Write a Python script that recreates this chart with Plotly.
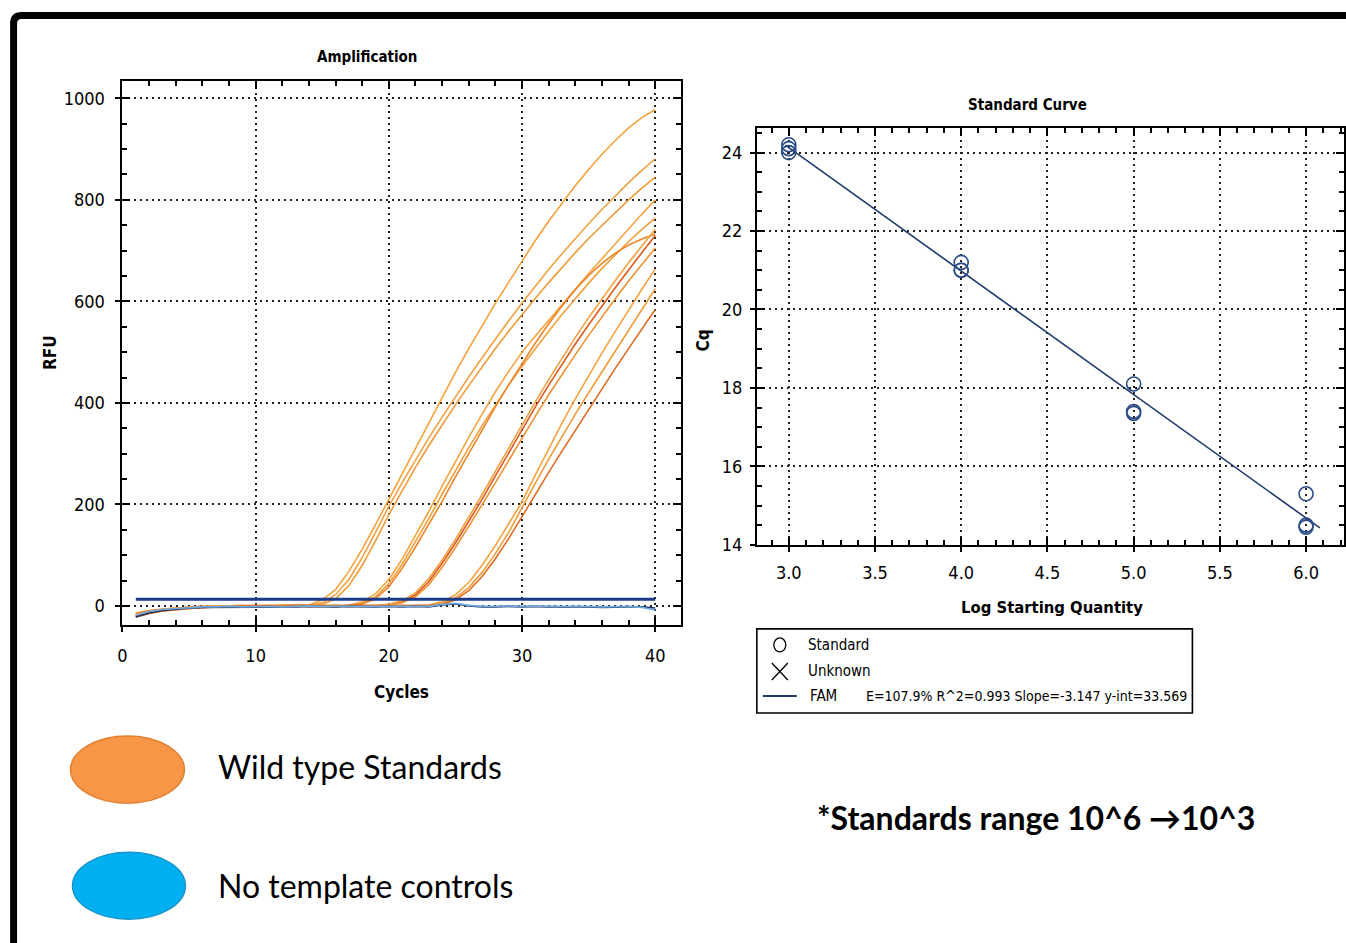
import plotly.graph_objects as go

W, H = 1346, 943

# ---------------- DATA ----------------
cycles = list(range(1, 41))

std_curves = {
    "A1": [-18, -12, -8, -5, -3, -2, -1, -2, 0, -1, 0, 1, 0, 2, 12, 32, 68, 112, 160, 210,
           262, 313, 363, 412, 460, 507, 552, 596, 638, 680, 720, 758, 794, 828, 860, 890, 917, 942, 962, 978],
    "A2": [-15, -10, -7, -4, -3, -1, -2, 0, -1, 1, 0, -1, 1, 1, 6, 22, 52, 95, 145, 196,
           243, 288, 331, 372, 412, 451, 489, 526, 562, 597, 631, 663, 694, 724, 753, 781, 808, 834, 858, 881],
    "A3": [-20, -13, -9, -6, -4, -3, -2, -1, -2, 0, -1, 0, 1, 0, 3, 14, 40, 80, 128, 180,
           228, 273, 316, 357, 396, 434, 471, 507, 541, 574, 606, 637, 667, 696, 724, 750, 776, 800, 823, 845],
    "B1": [-16, -11, -7, -5, -3, -2, -1, 0, -1, 0, 1, -1, 0, 1, 0, -2, 1, 8, 24, 52,
           92, 138, 186, 236, 285, 332, 378, 422, 462, 500, 532, 563, 594, 625, 655, 684, 714, 743, 772, 800],
    "B2": [-19, -13, -8, -6, -4, -2, -2, -1, 0, -1, 0, 0, 1, -1, 0, 1, -1, 5, 18, 44,
           82, 126, 172, 220, 267, 312, 355, 396, 435, 472, 507, 541, 574, 606, 636, 665, 692, 718, 742, 764],
    "B3": [-14, -9, -6, -4, -2, -1, -1, 0, 1, 0, -1, 1, 0, 0, -1, 0, 1, 4, 14, 38,
           74, 116, 160, 206, 254, 301, 347, 392, 436, 478, 518, 556, 591, 623, 651, 675, 695, 711, 723, 733],
    "C1": [-22, -15, -10, -7, -5, -3, -2, -2, -1, -1, 0, -1, 0, 1, 0, -1, 0, 1, 0, 2,
           8, 22, 48, 84, 124, 166, 210, 256, 302, 348, 392, 435, 476, 516, 554, 591, 627, 662, 696, 730],
    "C2": [-17, -12, -8, -5, -3, -2, -1, 0, -1, 0, 1, 0, -1, 0, 1, 0, -1, 0, 1, 3,
           10, 26, 54, 90, 131, 174, 219, 265, 311, 357, 402, 446, 488, 529, 568, 605, 641, 676, 709, 742],
    "C3": [-20, -14, -9, -6, -4, -3, -2, -1, 0, -1, 0, 0, 1, -1, 0, 1, 0, -1, 0, 1,
           6, 18, 42, 76, 115, 156, 199, 243, 287, 331, 374, 416, 456, 495, 533, 570, 605, 640, 673, 705],
    "D1": [-16, -11, -7, -4, -3, -2, -1, 0, 0, -1, 1, 0, 0, -1, 1, 0, -1, 0, 1, 0,
           -1, 1, 2, 8, 22, 46, 80, 119, 161, 205, 258, 310, 360, 408, 454, 498, 541, 583, 624, 664],
    "D2": [-18, -12, -8, -5, -3, -2, -1, -1, 0, 0, -1, 1, 0, 0, -1, 1, 0, -1, 0, 1,
           0, -1, 1, 5, 16, 36, 66, 103, 145, 195, 242, 289, 334, 378, 420, 461, 502, 543, 584, 625],
    "D3": [-21, -14, -10, -7, -5, -3, -2, -1, -1, 0, 0, -1, 1, 0, 0, -1, 1, 0, 0, -1,
           1, 0, 0, 3, 12, 30, 58, 93, 133, 176, 220, 263, 305, 346, 387, 428, 468, 507, 546, 584],
}
std_colors = {
    "A1": "#F4A23A", "A2": "#F2A040", "A3": "#F09A36",
    "B1": "#F4A440", "B2": "#F1A03C", "B3": "#EA852A",
    "C1": "#DC5A1E", "C2": "#F2A03F", "C3": "#EE9232",
    "D1": "#F3A33F", "D2": "#F09C3A", "D3": "#E06A22",
}

ntc_curves = {
    "NTC1": [-22, -14, -9, -6, -4, -3, -3, -2, -3, -2, -2, -3, -2, -1, -2, -2, -1, -2, -2, -1,
             -2, -1, -2, 2, 4, 0, -2, -2, -1, -2, -1, -2, -2, -1, -2, -3, -2, -2, -2, -4],
    "NTC2": [-18, -11, -7, -5, -3, -2, -2, -1, -2, -1, -1, -2, -1, 0, -1, -1, 0, -1, -1, 0,
             -1, 0, -1, 3, 5, 1, -1, -1, 0, -1, 0, -1, -1, 0, -1, -2, -1, -1, -3, -8],
}
ntc_colors = {"NTC1": "#1B2F5E", "NTC2": "#6FA8DC"}

threshold_x = [1, 40]
threshold_y = [13, 13]

log_qty = [3.0, 3.0, 3.0, 4.0, 4.0, 4.0, 5.0, 5.0, 5.0, 6.0, 6.0, 6.0]
cq_vals = [24.2, 24.0, 24.1, 21.2, 21.0, 21.0, 18.1, 17.4, 17.35, 15.3, 14.5, 14.45]
fit_x = [2.98, 6.08]
fit_y = [24.19, 14.43]

legend_rows = ["Standard", "Unknown", "FAM"]
fit_stats = "E=107.9% R^2=0.993 Slope=-3.147 y-int=33.569"

# ---------------- FIGURE ----------------
def px(x):
    return min(1.0, max(0.0, ((x - 4.4) / 0.9958) / W))

def py(y):
    return 1 - (y / 0.988) / H

NARROW = "DejaVu Sans Condensed, Liberation Sans Narrow, Arial Narrow, Liberation Sans, sans-serif"
CAL = "Lato, Open Sans, sans-serif"

fig = go.Figure()

for k, ys in std_curves.items():
    fig.add_trace(go.Scatter(x=cycles, y=ys, mode="lines",
                             line=dict(color=std_colors[k], width=1.6),
                             xaxis="x", yaxis="y", showlegend=False, hoverinfo="skip"))
for k, ys in ntc_curves.items():
    fig.add_trace(go.Scatter(x=cycles, y=ys, mode="lines",
                             line=dict(color=ntc_colors[k], width=1.6),
                             xaxis="x", yaxis="y", showlegend=False, hoverinfo="skip"))
fig.add_trace(go.Scatter(x=threshold_x, y=threshold_y, mode="lines",
                         line=dict(color="#1C3A8A", width=3),
                         xaxis="x", yaxis="y", showlegend=False, hoverinfo="skip"))

fig.add_trace(go.Scatter(x=fit_x, y=fit_y, mode="lines",
                         line=dict(color="#203A6B", width=1.6),
                         xaxis="x2", yaxis="y2", showlegend=False, hoverinfo="skip"))
fig.add_trace(go.Scatter(x=log_qty, y=cq_vals, mode="markers",
                         marker=dict(symbol="circle-open", size=14, color="#2B4C86",
                                     line=dict(width=1.6, color="#2B4C86")),
                         xaxis="x2", yaxis="y2", showlegend=False, hoverinfo="skip"))
fig.add_trace(go.Scatter(x=[], y=[], xaxis="x3", yaxis="y3", showlegend=False))
fig.add_trace(go.Scatter(x=[], y=[], xaxis="x4", yaxis="y4", showlegend=False))

axis_common = dict(
    showline=True, linecolor="black", linewidth=2, mirror="ticks",
    ticks="inside", ticklen=8, tickwidth=2, tickcolor="black",
    showgrid=True, gridcolor="#222222", gridwidth=1.6, griddash="2px,4px",
    zeroline=False, tickfont=dict(family=NARROW, size=18, color="black"),
)
stub_common = dict(showline=False, showgrid=False, zeroline=False, showticklabels=False,
                   ticks="outside", ticklen=6, tickwidth=2, tickcolor="black")

X1 = [px(122), px(681)]
Y1 = [py(624.3), py(81)]
X2 = [px(757), px(1346)]
Y2 = [py(544), py(127.7)]
XR1, YR1 = [0, 41.93], [-38, 1034]
XR2, YR2 = [2.8147, 6.22], [14, 24.63]

fig.update_layout(
    width=W, height=H, margin=dict(l=0, r=0, t=0, b=0),
    paper_bgcolor="white", plot_bgcolor="white", showlegend=False,
    xaxis=dict(domain=X1, range=XR1, dtick=10, tick0=0, anchor="y", ticklabelstandoff=13,
               minor=dict(ticks="inside", ticklen=5, tickwidth=2, dtick=2, tickcolor="black", showgrid=False),
               **axis_common),
    yaxis=dict(domain=Y1, range=YR1, dtick=200, tick0=0, anchor="x", ticklabelstandoff=12,
               minor=dict(ticks="inside", ticklen=5, tickwidth=2, dtick=50, tickcolor="black", showgrid=False),
               **axis_common),
    xaxis2=dict(domain=X2, range=XR2, dtick=0.5, tick0=3, tickformat=".1f", anchor="y2",
                ticklabelstandoff=11,
                minor=dict(ticks="inside", ticklen=5, tickwidth=2, dtick=0.1, tickcolor="black", showgrid=False),
                **axis_common),
    yaxis2=dict(domain=Y2, range=YR2, dtick=2, tick0=14, anchor="x2", ticklabelstandoff=9,
                minor=dict(ticks="inside", ticklen=5, tickwidth=2, dtick=0.5, tickcolor="black", showgrid=False),
                **axis_common),
    xaxis3=dict(domain=X1, range=XR1, dtick=10, tick0=0, anchor="y3", overlaying="x", **stub_common),
    yaxis3=dict(domain=Y1, range=YR1, dtick=200, tick0=0, anchor="x3", overlaying="y", **stub_common),
    xaxis4=dict(domain=X2, range=XR2, dtick=0.5, tick0=3, anchor="y4", overlaying="x2", **stub_common),
    yaxis4=dict(domain=Y2, range=YR2, dtick=2, tick0=14, anchor="x4", overlaying="y2", **stub_common),
)

ann = []
def text(x, y, s, size, family=NARROW, bold=False, xanchor="center", angle=0, color="black"):
    ann.append(dict(x=px(x), y=py(y), xref="paper", yref="paper", text=(f"<b>{s}</b>" if bold else s),
                    showarrow=False, xanchor=xanchor, yanchor="middle", textangle=angle,
                    font=dict(family=family, size=size, color=color)))

text(367, 57, "Amplification", 15, bold=True)
text(401, 691, "Cycles", 17, bold=True)
text(50, 352, "RFU", 17, bold=True, angle=-90)
text(1028, 105, "Standard Curve", 15, bold=True)
text(1052, 607, "Log Starting Quantity", 16.5, bold=True)
text(704, 340, "Cq", 17, bold=True, angle=-90)

text(806, 644, legend_rows[0], 15, xanchor="left")
text(806, 670, legend_rows[1], 15, xanchor="left")
text(808, 695, legend_rows[2], 15, xanchor="left")
text(864, 695, fit_stats, 14, xanchor="left")

text(216, 765, "Wild type Standards", 32, family=CAL, xanchor="left")
text(216, 884, "No template controls", 32, family=CAL, xanchor="left")
text(815, 816, "*Standards range 10^6 \u219210^3", 32, family=CAL, bold=True, xanchor="left")

fig.update_layout(annotations=ann)

shapes = []
fx, fy, r = 13, 15.5, 8
frame_path = (f"M {px(fx)},{py(H + 20)} L {px(fx)},{py(fy + r)} "
              f"Q {px(fx)},{py(fy)} {px(fx + r)},{py(fy)} L {1.01},{py(fy)}")
shapes.append(dict(type="path", xref="paper", yref="paper", path=frame_path,
                   line=dict(color="black", width=7)))
shapes.append(dict(type="rect", xref="paper", yref="paper",
                   x0=px(757), x1=px(1193), y0=py(712), y1=py(628),
                   line=dict(color="black", width=1.6), fillcolor="rgba(0,0,0,0)"))
shapes.append(dict(type="circle", xref="paper", yref="paper",
                   x0=px(774), x1=px(786), y0=py(651), y1=py(637),
                   line=dict(color="black", width=1.3)))
shapes.append(dict(type="line", xref="paper", yref="paper",
                   x0=px(772), x1=px(788), y0=py(662), y1=py(679), line=dict(color="black", width=1.3)))
shapes.append(dict(type="line", xref="paper", yref="paper",
                   x0=px(772), x1=px(788), y0=py(679), y1=py(662), line=dict(color="black", width=1.3)))
shapes.append(dict(type="line", xref="paper", yref="paper",
                   x0=px(763), x1=px(797), y0=py(695), y1=py(695), line=dict(color="#203A6B", width=2)))
shapes.append(dict(type="circle", xref="paper", yref="paper",
                   x0=px(70), x1=px(184), y0=py(802), y1=py(735),
                   fillcolor="#F79646", line=dict(color="#E2812F", width=1.5)))
shapes.append(dict(type="circle", xref="paper", yref="paper",
                   x0=px(72), x1=px(185), y0=py(918), y1=py(851),
                   fillcolor="#00B0F0", line=dict(color="#1A96CC", width=1.5)))
fig.update_layout(shapes=shapes)

fig.write_html("out.html")
